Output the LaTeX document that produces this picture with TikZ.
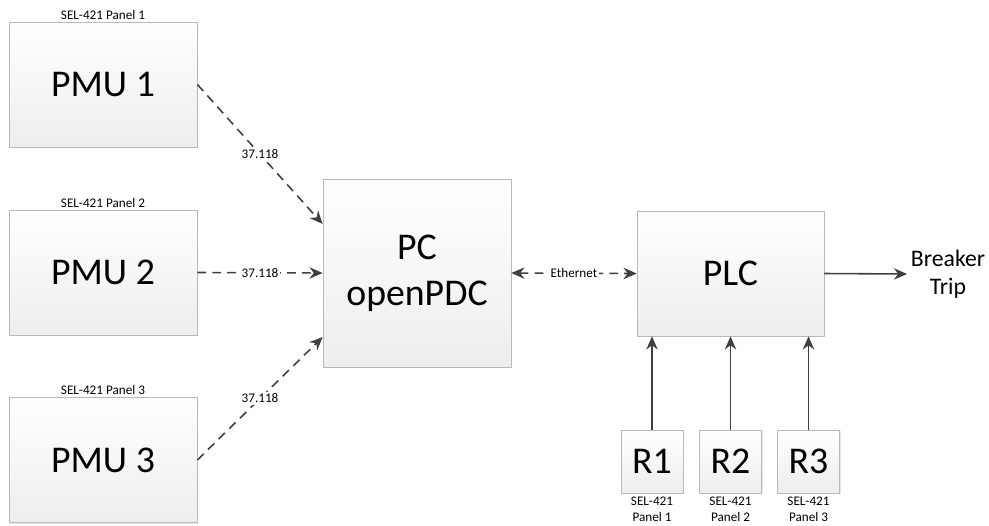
\documentclass[tikz,border=0pt]{standalone}
\usepackage{fontspec}
\setmainfont{Carlito}
\usepackage{tikz}
\usetikzlibrary{arrows.meta,positioning,shadows}

\begin{document}
\begin{tikzpicture}[
  box/.style={draw=gray!55, top color=white, bottom color=gray!14, inner sep=0pt,
    drop shadow={opacity=0.2, shadow xshift=0.6pt, shadow yshift=-0.6pt},
    font=\fontsize{21.5}{26}\selectfont, align=center},
  lbl/.style={font=\fontsize{7.5}{8.7}\selectfont, inner sep=1pt, align=center},
  link/.style={draw=black!75, line width=0.9pt, -{Stealth[length=7.5pt,width=6.5pt]}},
  pmulink/.style={link, dash pattern=on 5pt off 3.5pt},
]
\useasboundingbox (0,0) rectangle (19.78,-10.5);

% PMUs
\node[box, minimum width=3.76cm, minimum height=2.5cm] (pmu1) at (2.06,-1.69) {PMU 1};
\node[box, minimum width=3.76cm, minimum height=2.5cm] (pmu2) at (2.06,-5.45) {PMU 2};
\node[box, minimum width=3.76cm, minimum height=2.5cm] (pmu3) at (2.06,-9.2) {PMU 3};
\node[lbl, above=0pt of pmu1] (pan1) {SEL-421 Panel 1};
\node[lbl, above=0pt of pmu2] (pan2) {SEL-421 Panel 2};
\node[lbl, above=0pt of pmu3] (pan3) {SEL-421 Panel 3};

% PDC and PLC
\node[box, minimum width=3.76cm, minimum height=3.76cm] (pc) at (8.34,-5.46) {PC\\openPDC};
\node[box, minimum width=3.74cm, minimum height=2.5cm] (plc) at (14.61,-5.47) {PLC};

% relays
\node[box, minimum width=1.24cm, minimum height=1.26cm] (r1) at (13.04,-9.23) {R1};
\node[box, minimum width=1.24cm, minimum height=1.26cm] (r2) at (14.61,-9.23) {R2};
\node[box, minimum width=1.24cm, minimum height=1.26cm] (r3) at (16.17,-9.23) {R3};
\node[lbl, below=1pt of r1] (rp1) {SEL-421\\Panel 1};
\node[lbl, below=1pt of r2] (rp2) {SEL-421\\Panel 2};
\node[lbl, below=1pt of r3] (rp3) {SEL-421\\Panel 3};

\node[font=\fontsize{13.5}{16}\selectfont, align=center, inner sep=2pt] (trip) at (18.96,-5.48) {Breaker\\Trip};

% connectors
\draw[pmulink] (pmu1.east) -- node[lbl, fill=white, pos=0.5] (c1) {37.118} ([yshift=0.98cm]pc.west);
\draw[pmulink] (pmu2.east) -- node[lbl, fill=white, pos=0.5] (c2) {37.118} (pc.west);
\draw[pmulink] (pmu3.east) -- node[lbl, fill=white, pos=0.5] (c3) {37.118} ([yshift=-1.28cm]pc.west);
\draw[pmulink, {Stealth[length=7.5pt,width=6.5pt]}-{Stealth[length=7.5pt,width=6.5pt]}] (pc.east) -- node[lbl, fill=white] (eth) {Ethernet} (plc.west);
\draw[link] (plc.east) -- (trip.west);
\draw[link] (r1.north) -- (r1.north |- plc.south);
\draw[link] (r2.north) -- (plc.south);
\draw[link] (r3.north) -- (r3.north |- plc.south);

\end{tikzpicture}
\end{document}
